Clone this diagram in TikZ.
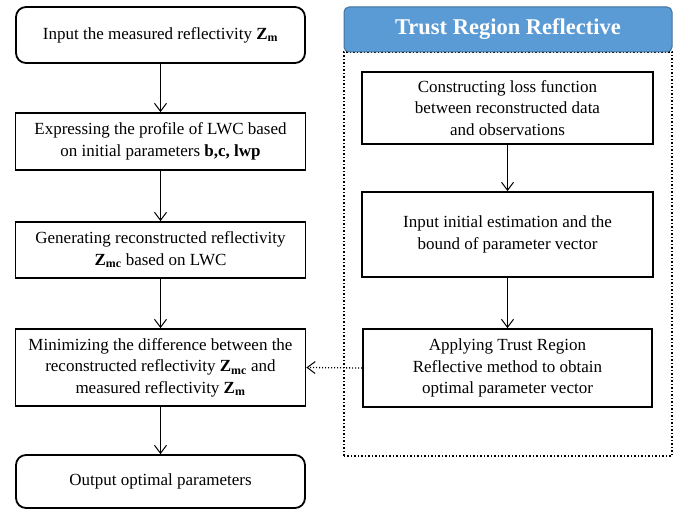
\documentclass[tikz,border=0pt]{standalone}
\usepackage{fontspec}
\setmainfont{Liberation Serif}
\usetikzlibrary{arrows.meta}
\definecolor{hdrblue}{HTML}{5B9BD5}
\definecolor{hdredge}{HTML}{41719C}
\begin{document}
\begin{tikzpicture}[x=1pt,y=1pt,
  box/.style={draw, line width=1.8pt, align=center, inner sep=0pt,
    font=\fontsize{17}{21.5}\selectfont},
  rbox/.style={box, rounded corners=10pt},
  flow/.style={-{Straight Barb[length=8pt,width=12pt,line width=1pt]}, line width=1pt},
  dotflow/.style={flow, dotted, line width=1.3pt}]
\useasboundingbox (0,0) rectangle (680,510);
% left column
\node[rbox, minimum width=289pt, minimum height=56pt] (in) at (160.5,475)
  {Input the measured reflectivity \textbf{Z\textsubscript{m}}};
\node[box, minimum width=290pt, minimum height=57pt] (expr) at (160.5,368.5)
  {Expressing the profile of LWC based\\on initial parameters \textbf{b,c, lwp}};
\node[box, minimum width=290pt, minimum height=56pt] (gen) at (160.5,260)
  {Generating reconstructed reflectivity\\\textbf{Z\textsubscript{mc}} based on LWC};
\node[box, minimum width=290pt, minimum height=77pt] (min) at (160.5,142.5)
  {Minimizing the difference between the\\reconstructed reflectivity \textbf{Z\textsubscript{mc}} and\\measured reflectivity \textbf{Z\textsubscript{m}}};
\node[rbox, minimum width=289pt, minimum height=53pt] (out) at (160.5,28.5)
  {Output optimal parameters};
% right column
\draw[dotted, line width=1.5pt] (344,54) rectangle (672,458);
\node[draw=hdredge, fill=hdrblue, line width=1pt, rounded corners=5pt,
  minimum width=328pt, minimum height=45pt, text=white,
  font=\fontsize{22.5}{26}\selectfont\bfseries] (hdr) at (508,480.5) {Trust Region Reflective};
\node[box, minimum width=291pt, minimum height=72pt] (loss) at (507.5,402)
  {Constructing loss function\\between reconstructed data\\and observations};
\node[box, minimum width=291pt, minimum height=85pt] (init) at (507.5,275.5)
  {Input initial estimation and the\\bound of parameter vector};
\node[box, minimum width=289pt, minimum height=78pt] (apply) at (507.5,142)
  {Applying Trust Region\\Reflective method to obtain\\optimal parameter vector};
% connectors
\draw[flow] (in) -- (expr);
\draw[flow] (expr) -- (gen);
\draw[flow] (gen) -- (min);
\draw[flow] (min) -- (out);
\draw[flow] (loss) -- (init);
\draw[flow] (init) -- (apply);
\draw[dotflow] (apply.west) -- (min.east);
\end{tikzpicture}
\end{document}
